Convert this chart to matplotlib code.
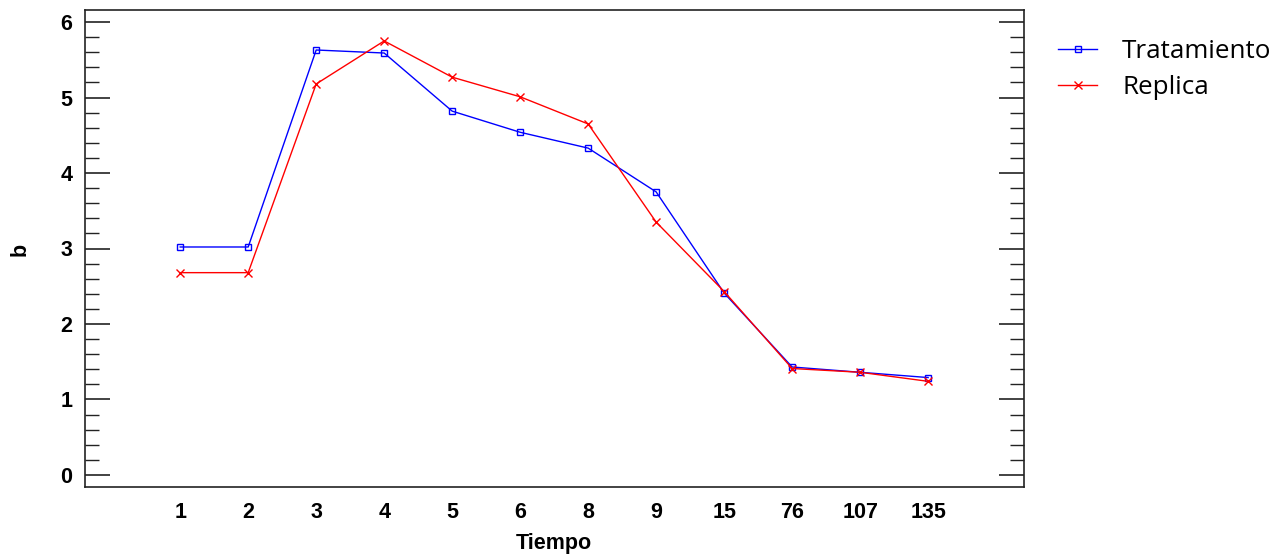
import matplotlib
matplotlib.use("Agg")
import matplotlib.pyplot as plt
from matplotlib.ticker import MultipleLocator

categories = ["1", "2", "3", "4", "5", "6", "8", "9", "15", "76", "107", "135"]
tratamiento = [3.02, 3.02, 5.63, 5.59, 4.82, 4.54, 4.33, 3.75, 2.41, 1.43, 1.36, 1.29]
replica = [2.68, 2.68, 5.18, 5.75, 5.27, 5.01, 4.65, 3.35, 2.43, 1.41, 1.36, 1.24]

fig = plt.figure(figsize=(12.83, 5.57), dpi=100)
ax = fig.add_axes([85/1283, 70/557, (1024-85)/1283, (487-10)/557])

x = list(range(len(categories)))
ax.plot(x, tratamiento, color="#0000ff", lw=1.0, marker="s", ms=5,
        mfc="none", mec="#0000ff", mew=1.0, label="Tratamiento")
ax.plot(x, replica, color="#ff0000", lw=1.0, marker="x", ms=6,
        mec="#ff0000", mew=1.0, label="Replica")

ax.set_xlim(-1.40, 12.41)
ax.set_ylim(-0.16, 6.16)
ax.set_xticks(x)
ax.set_xticklabels(categories)
ax.yaxis.set_major_locator(MultipleLocator(1))
ax.yaxis.set_minor_locator(MultipleLocator(0.2))

for lab in ax.get_xticklabels() + ax.get_yticklabels():
    lab.set_fontfamily("Liberation Sans")
    lab.set_fontweight("bold")
    lab.set_fontsize(15.5)

ax.tick_params(axis="x", length=0, pad=11)
ax.tick_params(axis="y", which="major", direction="in", length=18, width=1.2,
               left=True, right=True, pad=9, color="#222222")
ax.tick_params(axis="y", which="minor", direction="in", length=10, width=1.0,
               left=True, right=True, color="#222222")
for s in ax.spines.values():
    s.set_linewidth(1.2)
    s.set_color("#222222")

fig.text(554/1283, 1 - 544/557, "Tiempo", ha="center", va="center",
         fontfamily="Liberation Sans", fontweight="bold", fontsize=15.5)
fig.text(20/1283, 1 - 249/557, "b", ha="center", va="center", rotation=90,
         fontfamily="Liberation Sans", fontweight="bold", fontsize=15.5)

fig.legend(loc="upper left", bbox_to_anchor=(1048/1283, 1 - 29/557),
           borderaxespad=0, frameon=False, prop=dict(family="Open Sans", size=18.7),
           handlelength=1.5, handletextpad=0.95, labelspacing=0.42)

fig.savefig("out.png", dpi=100)
